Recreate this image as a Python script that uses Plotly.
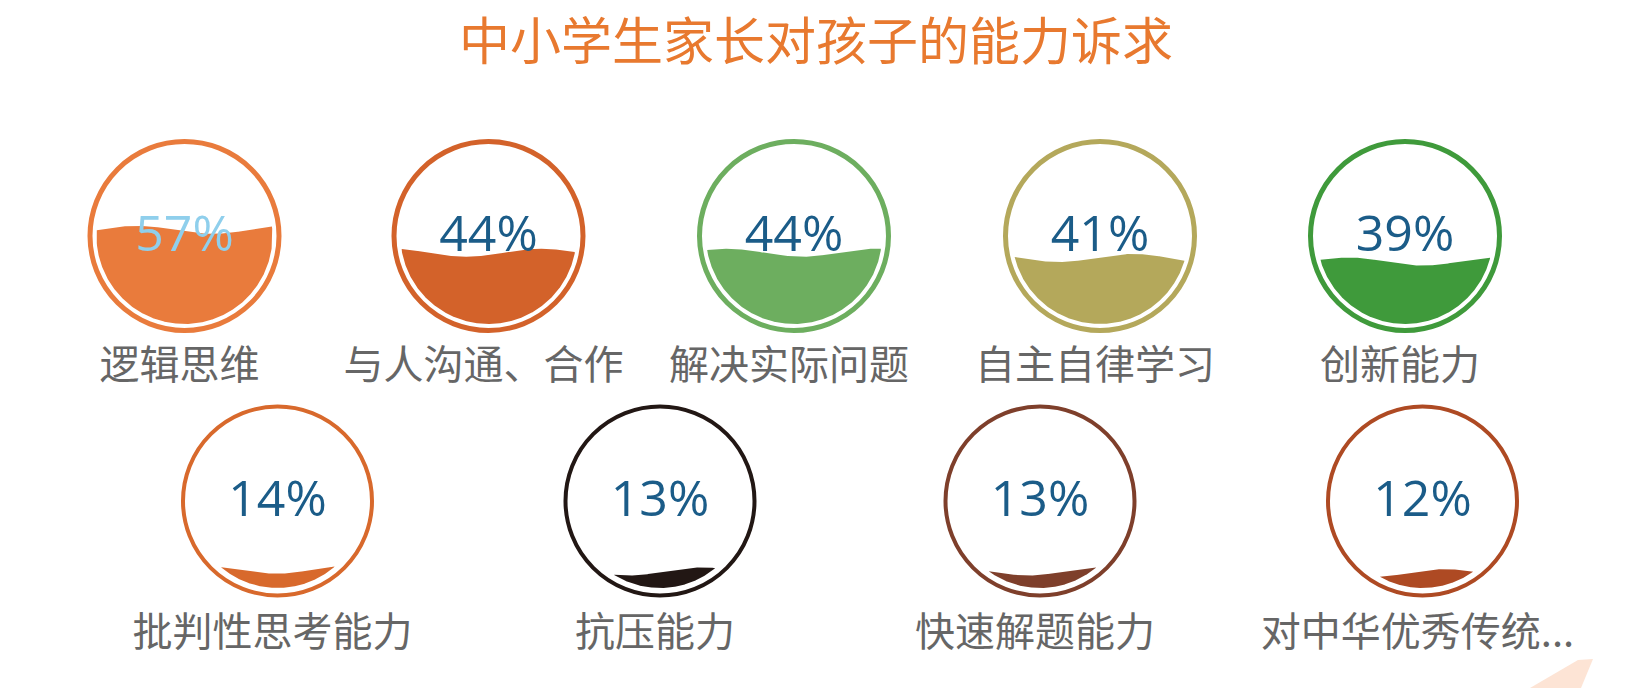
import numpy as np
import plotly.graph_objects as go

# ---- data ----
title = "中小学生家长对孩子的能力诉求"
categories = ["逻辑思维", "与人沟通、合作", "解决实际问题", "自主自律学习", "创新能力",
              "批判性思考能力", "抗压能力", "快速解题能力", "对中华优秀传统..."]
values = [57, 44, 44, 41, 39, 14, 13, 13, 12]
colors = ["#E97B3C", "#D3622A", "#6DAE5F", "#B4A85B", "#3F9A3B",
          "#D8692C", "#221714", "#7E3F2B", "#AE4A23"]

# ---- layout (pixel space) ----
W, H = 1633, 688
row1_x = [184.5, 488.5, 794, 1100, 1405]
row2_x = [277.5, 660, 1040, 1422.5]
row1_y, row2_y = 236, 501

centers = [(x, row1_y) for x in row1_x] + [(x, row2_y) for x in row2_x]

fig = go.Figure()
shapes = []

def fill_polygon(cx, cy, rf, frac, phase, amp=4.0, wl=150.0):
    level = cy + rf - (frac - 0.035) * 2 * rf
    xs = np.linspace(-rf, rf, 600)
    half = np.sqrt(np.maximum(rf**2 - xs**2, 0))
    ytop_c = cy - half
    ybot_c = cy + half
    yw = level + amp * np.sin(2 * np.pi * (xs + phase) / wl)
    top = np.maximum(yw, ytop_c)
    ok = top < ybot_c
    xt = xs[ok] + cx
    yt = top[ok]
    yb = ybot_c[ok]
    px = np.concatenate([xt, xt[::-1], xt[:1]])
    py = np.concatenate([yt, yb[::-1], yt[:1]])
    return px, py, level

phases = [10, 60, 30, 80, 20, 40, 70, 50, 90]

for i, ((cx, cy), v, c) in enumerate(zip(centers, values, colors)):
    row1 = i < 5
    r_outer = 97 if row1 else 96.5
    lw = 5 if row1 else 4
    rr = r_outer - lw / 2
    rf = 88 if row1 else 87
    px, py, level = fill_polygon(cx, cy, rf, v / 100, phases[i])
    fig.add_trace(go.Scatter(x=px, y=py, mode="lines", fill="toself",
                             fillcolor=c, line=dict(width=0, color=c),
                             hoverinfo="skip", showlegend=False))
    shapes.append(dict(type="circle", xref="x", yref="y",
                       x0=cx - rr, x1=cx + rr, y0=cy - rr, y1=cy + rr,
                       line=dict(color=c, width=lw), layer="above"))
    txt_color = "#8FCFEC" if level < cy + 5 else "#1B5C88"
    fig.add_trace(go.Scatter(x=[cx], y=[cy + 2], mode="text",
                             text=[f"{v}%"], textposition="middle center",
                             textfont=dict(family="Open Sans", size=50, color=txt_color),
                             hoverinfo="skip", showlegend=False))
    ly = cy + (133 if row1 else 135)
    fig.add_trace(go.Scatter(x=[cx - 5], y=[ly], mode="text",
                             text=[categories[i]], textposition="middle center",
                             textfont=dict(family="Noto Sans CJK SC", size=40, color="#666666"),
                             hoverinfo="skip", showlegend=False))

# decorative wedge bottom right
shapes.append(dict(type="path", xref="x", yref="y",
                   path="M 1578 660 L 1593 659 L 1581 688 L 1530 688 Z",
                   fillcolor="#FDE4D5", line=dict(width=0), layer="below"))

fig.add_annotation(x=816, y=38, xref="x", yref="y", text=title, showarrow=False,
                   font=dict(family="Noto Sans CJK SC", size=51, color="#E8792F"),
                   xanchor="center", yanchor="middle")

fig.update_layout(
    width=W, height=H, autosize=False,
    margin=dict(l=0, r=0, t=0, b=0),
    paper_bgcolor="white", plot_bgcolor="white",
    xaxis=dict(range=[0, W], visible=False, fixedrange=True),
    yaxis=dict(range=[H, 0], visible=False, fixedrange=True),
    shapes=shapes,
)

fig.write_html("out.html")
